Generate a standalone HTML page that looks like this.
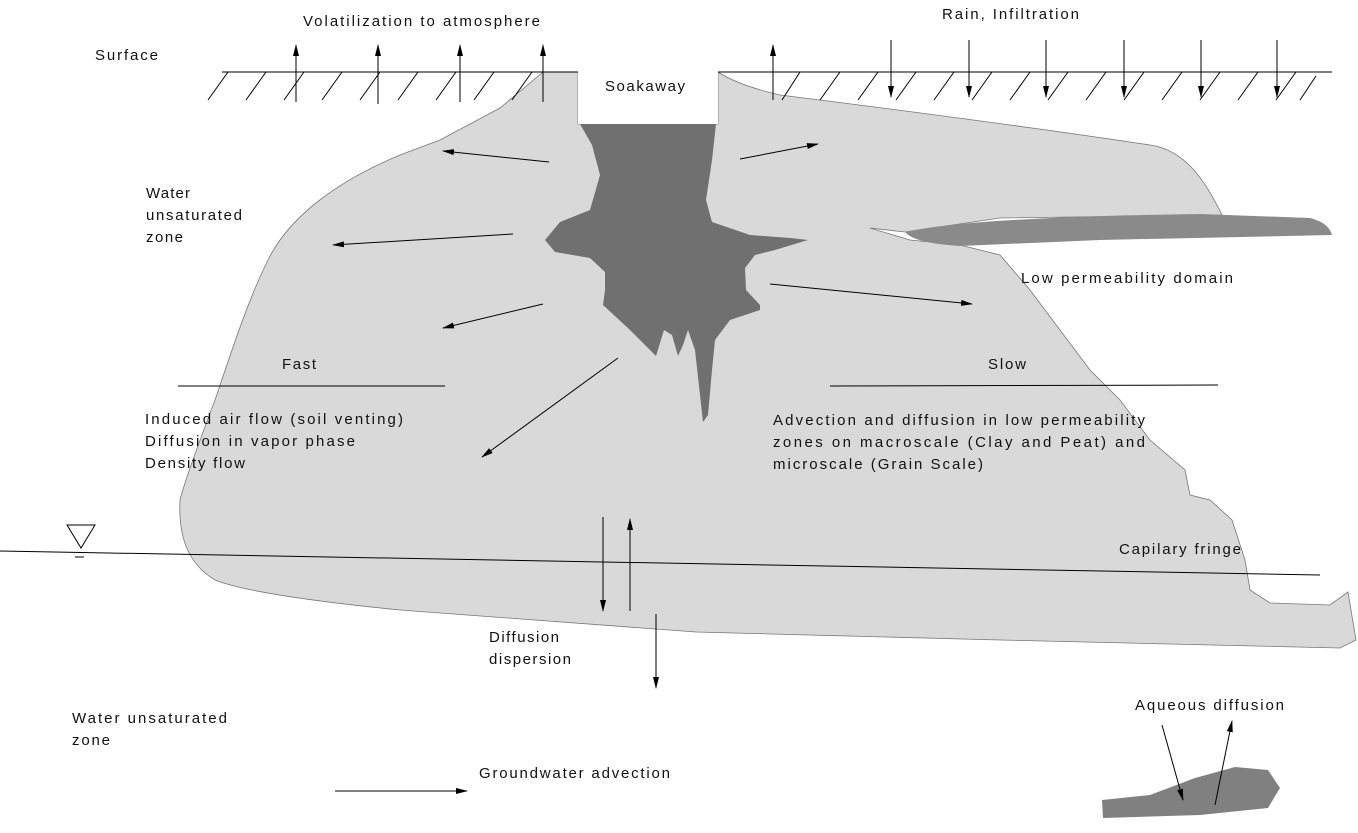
<!DOCTYPE html>
<html><head><meta charset="utf-8"><style>
html,body{margin:0;padding:0;background:#fff}
svg{display:block}
text{font-family:"Liberation Sans",sans-serif;font-size:15px;fill:#111}
</style></head><body>
<svg width="1358" height="833" viewBox="0 0 1358 833" xmlns="http://www.w3.org/2000/svg">
<defs>
<marker id="a" markerWidth="12" markerHeight="8" refX="11" refY="4" orient="auto" markerUnits="userSpaceOnUse">
<path d="M0,1 L12,4 L0,7 z" fill="#000"/></marker>
</defs>
<path d="M543,72 L500,108 L440,140 L400,155 C340,180 290,215 268,260 C248,300 232,350 215,400 C200,440 185,480 180,500 C178,540 190,565 215,580 C240,590 300,600 400,610 L696,632 L1000,640 L1340,648 L1356,640 L1348,592 L1330,605 L1270,603 L1250,590 L1245,560 L1232,520 L1210,500 L1190,495 L1185,470 L1150,440 L1120,400 L1090,370 L1060,330 L1030,290 L1000,255 L960,245 L910,240 L870,228 L905,232 L1000,218 L1222,215 C1205,180 1185,150 1150,145 C1050,130 900,110 780,95 C750,88 730,80 718,72 L718,124 L578,124 L578,72 Z" fill="#d9d9d9" stroke="#777" stroke-width="0.8"/>
<rect x="578" y="71" width="140" height="53" fill="#fff"/>
<path d="M580,124 L716,124 L712,160 L706,200 L712,222 L750,235 L790,238 L808,240 L775,250 L755,255 L745,268 L746,290 L760,305 L760,310 L730,320 L715,340 L712,370 L708,415 L703,422 L695,350 L688,330 L683,345 L678,356 L672,335 L664,330 L656,356 L630,330 L603,305 L605,290 L605,272 L590,258 L555,252 L545,240 L560,222 L590,210 L600,175 L592,145 Z" fill="#707070"/>
<path d="M905,232 C950,222 1050,216 1200,214 L1310,218 C1325,222 1330,228 1332,235 L1100,240 L960,246 C930,244 912,240 905,232 Z" fill="#8a8a8a"/>
<path d="M1102,800 L1150,795 L1195,778 L1235,767 L1268,770 L1280,788 L1268,808 L1200,815 L1103,818 Z" fill="#808080"/>
<g stroke="#000" stroke-width="1">
<line x1="222" y1="72" x2="578" y2="72"/><line x1="718" y1="72" x2="1332" y2="72"/>
<line x1="208" y1="100" x2="228" y2="72"/><line x1="246" y1="100" x2="266" y2="72"/><line x1="284" y1="100" x2="304" y2="72"/><line x1="322" y1="100" x2="342" y2="72"/><line x1="360" y1="100" x2="380" y2="72"/><line x1="398" y1="100" x2="418" y2="72"/><line x1="436" y1="100" x2="456" y2="72"/><line x1="474" y1="100" x2="494" y2="72"/><line x1="512" y1="100" x2="532" y2="72"/>
<line x1="782" y1="100" x2="800" y2="72"/><line x1="820" y1="100" x2="840" y2="72"/><line x1="858" y1="100" x2="878" y2="72"/><line x1="896" y1="100" x2="916" y2="72"/><line x1="934" y1="100" x2="954" y2="72"/><line x1="972" y1="100" x2="992" y2="72"/><line x1="1010" y1="100" x2="1030" y2="72"/><line x1="1048" y1="100" x2="1068" y2="72"/><line x1="1086" y1="100" x2="1106" y2="72"/><line x1="1124" y1="100" x2="1144" y2="72"/><line x1="1162" y1="100" x2="1182" y2="72"/><line x1="1200" y1="100" x2="1220" y2="72"/><line x1="1238" y1="100" x2="1258" y2="72"/><line x1="1276" y1="100" x2="1296" y2="72"/><line x1="1300" y1="100" x2="1316" y2="76"/>
</g>
<g stroke="#000" stroke-width="1" marker-end="url(#a)">
<line x1="296" y1="102" x2="296" y2="45"/><line x1="378" y1="104" x2="378" y2="45"/><line x1="460" y1="102" x2="460" y2="45"/><line x1="543" y1="102" x2="543" y2="45"/><line x1="773" y1="100" x2="773" y2="45"/>
<line x1="891" y1="40" x2="891" y2="97"/><line x1="969" y1="40" x2="969" y2="97"/><line x1="1046" y1="40" x2="1046" y2="97"/><line x1="1124" y1="40" x2="1124" y2="97"/><line x1="1201" y1="40" x2="1201" y2="97"/><line x1="1277" y1="40" x2="1277" y2="97"/>
<line x1="549" y1="162" x2="443" y2="151"/><line x1="513" y1="234" x2="333" y2="245"/><line x1="543" y1="304" x2="443" y2="328"/><line x1="618" y1="358" x2="482" y2="457"/>
<line x1="740" y1="159" x2="818" y2="144"/><line x1="770" y1="284" x2="972" y2="304"/>
<line x1="603" y1="517" x2="603" y2="611"/><line x1="630" y1="611" x2="630" y2="519"/><line x1="656" y1="614" x2="656" y2="688"/>
<line x1="335" y1="791" x2="467" y2="791"/>
<line x1="1162" y1="725" x2="1183" y2="800"/><line x1="1215" y1="805" x2="1232" y2="721"/>
</g>
<g stroke="#000" stroke-width="1">
<line x1="178" y1="386" x2="445" y2="386"/><line x1="830" y1="386" x2="1218" y2="385"/>
<line x1="0" y1="551" x2="1320" y2="575"/>
<path d="M67,525 L95,525 L81,548 Z" fill="none"/><line x1="75" y1="557" x2="84" y2="557"/>
</g>
<g lengthAdjust="spacing">
<text x="95" y="60" textLength="63">Surface</text>
<text x="303" y="26" textLength="237">Volatilization to atmosphere</text>
<text x="605" y="91" textLength="80">Soakaway</text>
<text x="942" y="19" textLength="137">Rain, Infiltration</text>
<text x="146" y="198" textLength="44">Water</text><text x="146" y="220" textLength="96">unsaturated</text><text x="146" y="242" textLength="37">zone</text>
<text x="1021" y="283" textLength="212">Low permeability domain</text>
<text x="282" y="369" textLength="34">Fast</text><text x="988" y="369" textLength="38">Slow</text>
<text x="145" y="424" textLength="258">Induced air flow (soil venting)</text>
<text x="145" y="446" textLength="210">Diffusion in vapor phase</text>
<text x="145" y="468" textLength="100">Density flow</text>
<text x="773" y="425" textLength="372">Advection and diffusion in low permeability</text>
<text x="773" y="447" textLength="372">zones on macroscale (Clay and Peat) and</text>
<text x="773" y="469" textLength="210">microscale (Grain Scale)</text>
<text x="1119" y="554" textLength="122">Capilary fringe</text>
<text x="489" y="642" textLength="70">Diffusion</text><text x="489" y="664" textLength="82">dispersion</text>
<text x="72" y="723" textLength="155">Water unsaturated</text><text x="72" y="745" textLength="38">zone</text>
<text x="479" y="778" textLength="191">Groundwater advection</text>
<text x="1135" y="710" textLength="149">Aqueous diffusion</text>
</g>
</svg>
</body></html>
